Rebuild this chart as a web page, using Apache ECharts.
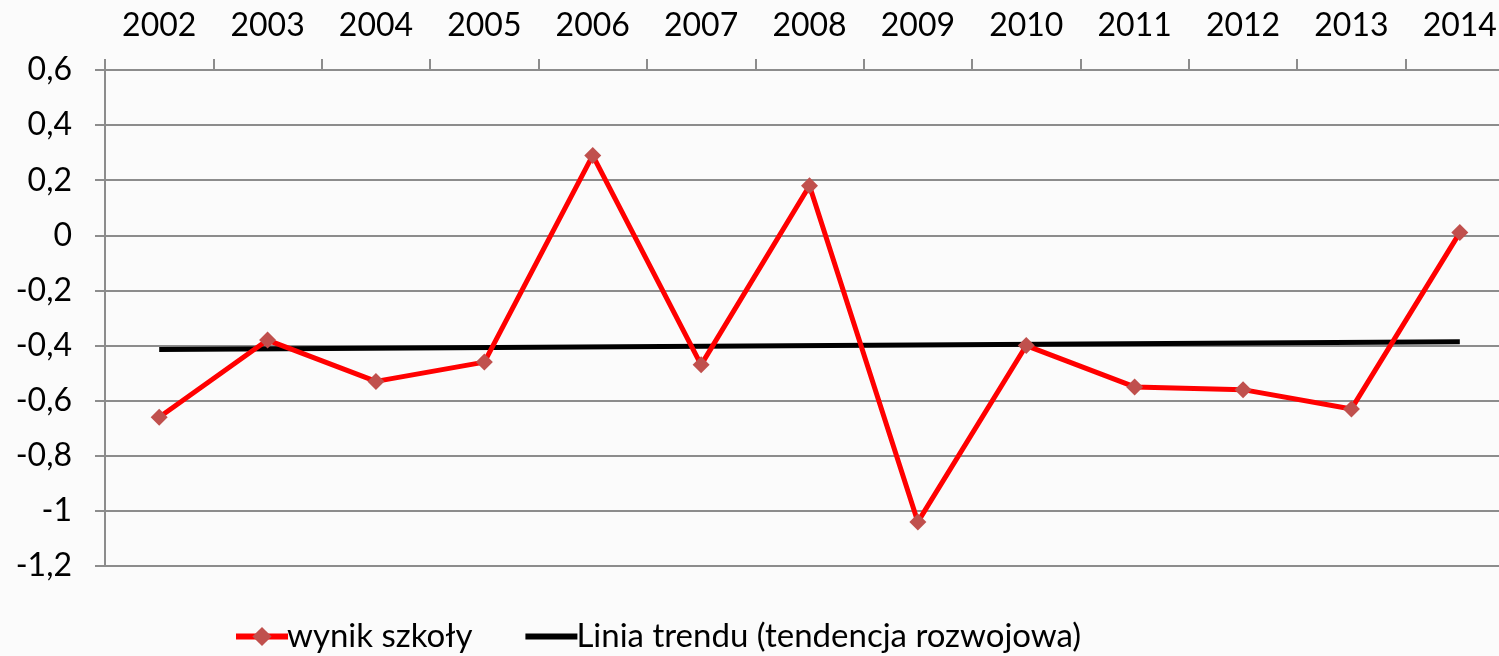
<!DOCTYPE html>
<html>
<head>
<meta charset="utf-8">
<script src="https://cdn.jsdelivr.net/npm/echarts@6/dist/echarts.min.js"></script>
<style>
html,body{margin:0;padding:0;background:#fbfbfb;overflow:hidden;width:1499px;height:656px;}
#chart{width:1520px;height:656px;}
</style>
</head>
<body>
<div id="chart"></div>
<script>
const years = ['2002','2003','2004','2005','2006','2007','2008','2009','2010','2011','2012','2013','2014'];
const wynikSzkoly = [-0.66, -0.38, -0.53, -0.46, 0.29, -0.47, 0.18, -1.04, -0.40, -0.55, -0.56, -0.63, 0.01];
const liniaTrendu = [-0.414, null, null, null, null, null, null, null, null, null, null, null, -0.386];
const seriesNames = ['wynik szkoły', 'Linia trendu (tendencja rozwojowa)'];

const chart = echarts.init(document.getElementById('chart'));
const font = 'Lato, "Open Sans", sans-serif';
chart.setOption({
  backgroundColor: '#fbfbfb',
  animation: false,
  textStyle: { fontFamily: font, color: '#000' },
  grid: { left: 105, top: 70, right: 6, bottom: 90, containLabel: false },
  legend: {
    bottom: -2, left: 228,
    itemWidth: 52, itemHeight: 24, itemGap: 50,
    textStyle: { fontFamily: font, fontSize: 33, color: '#000', padding: [0,0,0,-6] },
    data: [
      { name: seriesNames[0], lineStyle: { color: '#ff0000', width: 6 }, itemStyle: { color: '#c0504d' } },
      { name: seriesNames[1], lineStyle: { color: '#000', width: 6 }, itemStyle: { color: 'rgba(0,0,0,0)', borderWidth: 0 } }
    ]
  },
  xAxis: {
    type: 'category', position: 'top', data: years, boundaryGap: true,
    axisLine: { onZero: false, lineStyle: { color: '#8c8c8c', width: 2 } },
    axisTick: { show: true, length: 11, lineStyle: { color: '#8c8c8c', width: 2 } },
    axisLabel: { fontSize: 32, color: '#000', margin: 28, fontFamily: font }
  },
  yAxis: {
    type: 'value', min: -1.2, max: 0.6, interval: 0.2,
    axisLine: { show: true, lineStyle: { color: '#8c8c8c', width: 2 } },
    axisTick: { show: true, length: 10, lineStyle: { color: '#8c8c8c', width: 2 } },
    splitLine: { lineStyle: { color: '#8c8c8c', width: 2 } },
    axisLabel: {
      fontSize: 32, color: '#000', margin: 33, fontFamily: font,
      formatter: v => String(+v.toFixed(1)).replace('.', ',')
    }
  },
  series: [
    {
      name: seriesNames[0], type: 'line', data: wynikSzkoly,
      lineStyle: { color: '#ff0000', width: 5 },
      itemStyle: { color: '#c0504d' },
      symbol: 'diamond', symbolSize: 17, z: 3
    },
    {
      name: seriesNames[1], type: 'line', data: liniaTrendu, connectNulls: true,
      lineStyle: { color: '#000', width: 5 },
      itemStyle: { color: '#000' },
      symbol: 'none', showSymbol: false, z: 2
    }
  ]
});
</script>
</body>
</html>
